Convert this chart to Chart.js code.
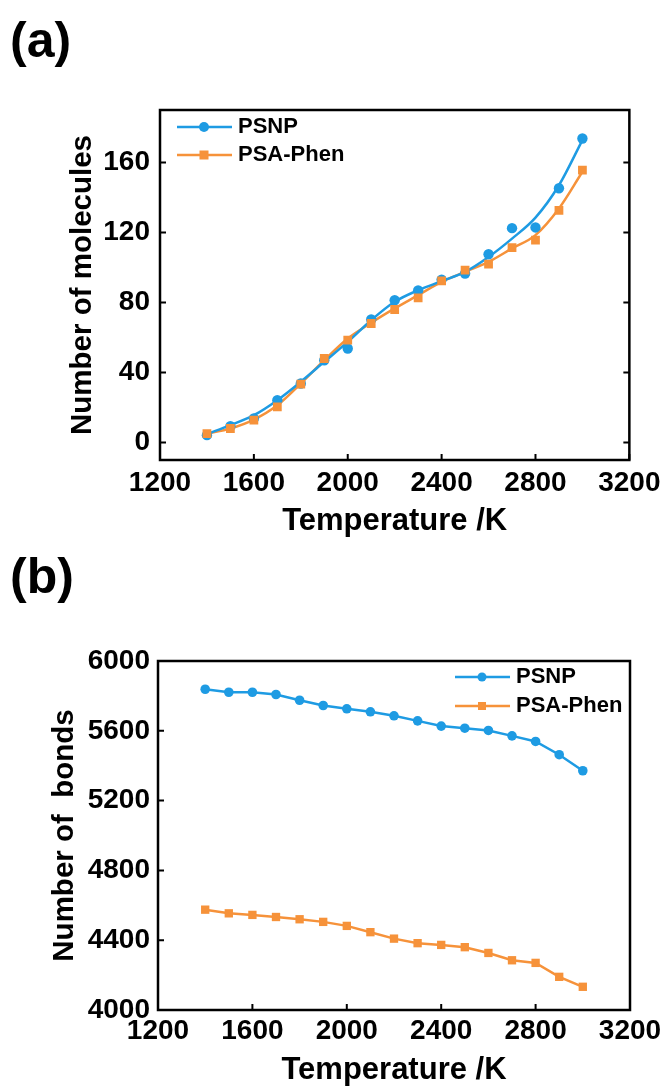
<!DOCTYPE html>
<html>
<head>
<meta charset="utf-8">
<script src="https://cdn.jsdelivr.net/npm/chart.js@4.4.1/dist/chart.umd.min.js"></script>
<style>
  html, body { margin: 0; padding: 0; background: #fff; }
  #page { position: relative; width: 667px; height: 1086px; overflow: hidden; }
  canvas { position: absolute; left: 0; }
  .tag { position: absolute; left: 10px; z-index: 2; color: #000;
         font: bold 50px "Liberation Sans", Arial, sans-serif; line-height: 50px; }
</style>
</head>
<body>
<div id="page">
  <canvas id="chartA" width="667" height="545" style="top:0"></canvas>
  <canvas id="chartB" width="667" height="541" style="top:545px"></canvas>
  <div class="tag" style="top:15px">(a)</div>
  <div class="tag" style="top:551px">(b)</div>
</div>
<script>
const temps = [1400, 1500, 1600, 1700, 1800, 1900, 2000, 2100, 2200, 2300, 2400, 2500, 2600, 2700, 2800, 2900, 3000];
const xTicks = [1200, 1600, 2000, 2400, 2800, 3200];
const moleculeTicks = [0, 40, 80, 120, 160];
const bondTicks = [4000, 4400, 4800, 5200, 5600, 6000];

// (a) number of molecules: measured points and the smoothed curve drawn through them
const psnpMolecules = [4.2, 9.3, 13.7, 24.2, 33.7, 47, 53.7, 70.3, 81.3, 86.9, 93.1, 96.6, 107.6, 122.5, 122.9, 145.3, 173.7];
const phenMolecules = [5.1, 8, 12.8, 20.4, 33.3, 48, 58.5, 68, 76, 82.7, 92.4, 98.5, 101.9, 111.4, 115.6, 132.6, 155.6];
const psnpMoleculeCurve = [4.8, 9.9, 15.6, 24.2, 34.7, 46.1, 57.5, 69.9, 80.4, 87, 92.2, 97.5, 106, 116.5, 128.5, 147, 172.8];
const phenMoleculeCurve = [5.1, 8, 13.1, 21.3, 33.7, 47, 59.4, 68.4, 76.6, 84.2, 91.8, 97.5, 103.2, 110.9, 118.5, 133.7, 154.7];

// (b) number of bonds
const psnpBonds = [5838, 5821, 5821, 5808, 5775, 5745, 5726, 5709, 5686, 5657, 5627, 5615, 5602, 5571, 5539, 5463, 5371];
const phenBonds = [4575, 4554, 4545, 4533, 4520, 4505, 4482, 4446, 4409, 4383, 4373, 4360, 4327, 4285, 4270, 4190, 4133];

const BLUE = '#1E9BE3';
const ORANGE = '#F6923A';
const FAMILY = '"Liberation Sans", Arial, sans-serif';

const toPoints = vals => temps.map((t, i) => ({ x: t, y: vals[i] }));

// box round the plot with ticks pointing inwards
const framePlugin = {
    id: 'frame',
    afterDraw(chart, args, opts) {
        const { ctx, chartArea: a, scales } = chart;
        const len = 6;
        ctx.save();
        ctx.strokeStyle = '#000';
        ctx.lineWidth = 2.5;
        ctx.strokeRect(a.left, a.top, a.right - a.left, a.bottom - a.top);
        ctx.lineWidth = 2;
        ctx.beginPath();
        scales.x.ticks.forEach(t => {
            const px = scales.x.getPixelForValue(t.value);
            ctx.moveTo(px, a.bottom);
            ctx.lineTo(px, a.bottom - len);
        });
        scales.y.ticks.forEach(t => {
            const py = scales.y.getPixelForValue(t.value);
            ctx.moveTo(a.left, py);
            ctx.lineTo(a.left + len, py);
            if (opts.mirrorY) {
                ctx.moveTo(a.right, py);
                ctx.lineTo(a.right - len, py);
            }
        });
        ctx.stroke();
        ctx.restore();
    }
};

// legend drawn inside the plot box: line with a marker, then the label
const insetLegend = {
    id: 'insetLegend',
    afterDraw(chart, args, opts) {
        const { ctx, chartArea: a } = chart;
        const x0 = opts.side === 'right' ? a.right + opts.dx : a.left + opts.dx;
        ctx.save();
        opts.items.forEach((it, i) => {
            const y = a.top + opts.dy + i * opts.gap;
            ctx.strokeStyle = it.color;
            ctx.lineWidth = 2.5;
            ctx.beginPath();
            ctx.moveTo(x0, y);
            ctx.lineTo(x0 + 55, y);
            ctx.stroke();
            ctx.fillStyle = it.color;
            const mx = x0 + 27;
            if (it.square) {
                ctx.fillRect(mx - it.size / 2, y - it.size / 2, it.size, it.size);
            } else {
                ctx.beginPath();
                ctx.arc(mx, y, it.size / 2, 0, Math.PI * 2);
                ctx.fill();
            }
            ctx.fillStyle = '#000';
            ctx.font = 'bold 22px ' + FAMILY;
            ctx.textBaseline = 'middle';
            ctx.textAlign = 'left';
            ctx.fillText(it.label, x0 + 61, y);
        });
        ctx.restore();
    }
};

function axes(opts) {
    const tickFont = { family: FAMILY, size: 28, weight: 'bold' };
    const xTitleFont = { family: FAMILY, size: 31, weight: 'bold', lineHeight: 1 };
    const yTitleFont = { family: FAMILY, size: 29.5, weight: 'bold', lineHeight: 1 };
    const noGrid = { display: false, drawTicks: false };
    return {
        x: {
            type: 'linear', min: 1200, max: 3200,
            grid: noGrid, border: { display: false },
            afterBuildTicks: s => { s.ticks = xTicks.map(v => ({ value: v })); },
            afterFit: s => { s.height = opts.xHeight; },
            ticks: { font: tickFont, color: '#000', padding: opts.xPad, maxRotation: 0, autoSkip: false,
                     callback: v => String(v) },
            title: { display: true, text: 'Temperature /K', font: xTitleFont, color: '#000',
                     padding: { top: 0, bottom: opts.xTitlePad } }
        },
        y: {
            type: 'linear', min: opts.yMin, max: opts.yMax,
            grid: noGrid, border: { display: false },
            afterBuildTicks: s => { s.ticks = opts.yTicks.map(v => ({ value: v })); },
            afterFit: s => { s.width = opts.yWidth; },
            ticks: { font: tickFont, color: '#000', padding: opts.yPad, autoSkip: false,
                     callback: v => String(v) },
            title: { display: true, text: opts.yTitle, font: yTitleFont, color: '#000',
                     padding: { top: opts.yTitlePad, bottom: 0 } }
        }
    };
}

Chart.defaults.font.family = FAMILY;

new Chart(document.getElementById('chartA'), {
    type: 'line',
    data: {
        datasets: [
            { label: 'PSA-Phen', data: toPoints(phenMolecules), showLine: false,
              pointStyle: 'rect', pointRadius: 6.2, pointBackgroundColor: ORANGE, pointBorderWidth: 0 },
            { label: 'PSNP', data: toPoints(psnpMolecules), showLine: false,
              pointStyle: 'circle', pointRadius: 5.2, pointBackgroundColor: BLUE, pointBorderWidth: 0 },
            { label: 'PSNP curve', data: toPoints(psnpMoleculeCurve), borderColor: BLUE, borderWidth: 2.5,
              pointRadius: 0, cubicInterpolationMode: 'monotone', fill: false },
            { label: 'PSA-Phen curve', data: toPoints(phenMoleculeCurve), borderColor: ORANGE, borderWidth: 2.5,
              pointRadius: 0, cubicInterpolationMode: 'monotone', fill: false }
        ]
    },
    options: {
        responsive: false,
        animation: false,
        devicePixelRatio: 1,
        events: [],
        layout: { padding: { left: 0, right: 37, top: 110, bottom: 0 } },
        scales: axes({ xHeight: 85, xPad: 6.5, xTitlePad: 8.2, yMin: -10, yMax: 190, yTicks: moleculeTicks,
                       yWidth: 160, yPad: 10, yTitle: 'Number of molecules', yTitlePad: 68.2 }),
        plugins: {
            legend: { display: false },
            tooltip: { enabled: false },
            frame: { mirrorY: true },
            insetLegend: {
                side: 'left', dx: 17, dy: 17, gap: 28,
                items: [
                    { label: 'PSNP', color: BLUE, size: 10 },
                    { label: 'PSA-Phen', color: ORANGE, size: 9, square: true }
                ]
            }
        }
    },
    plugins: [framePlugin, insetLegend]
});

new Chart(document.getElementById('chartB'), {
    type: 'line',
    data: {
        datasets: [
            { label: 'PSNP', data: toPoints(psnpBonds), borderColor: BLUE, borderWidth: 2.5, tension: 0,
              pointStyle: 'circle', pointRadius: 4.8, pointBackgroundColor: BLUE, pointBorderWidth: 0 },
            { label: 'PSA-Phen', data: toPoints(phenBonds), borderColor: ORANGE, borderWidth: 2.5, tension: 0,
              pointStyle: 'rect', pointRadius: 5.9, pointBackgroundColor: ORANGE, pointBorderWidth: 0 }
        ]
    },
    options: {
        responsive: false,
        animation: false,
        devicePixelRatio: 1,
        events: [],
        layout: { padding: { left: 0, right: 37, top: 116, bottom: 0 } },
        scales: axes({ xHeight: 76, xPad: 4.5, xTitlePad: 0.2, yMin: 4000, yMax: 6000, yTicks: bondTicks,
                       yWidth: 158, yPad: 8, yTitle: 'Number of  bonds', yTitlePad: 50.2 }),
        plugins: {
            legend: { display: false },
            tooltip: { enabled: false },
            frame: { mirrorY: false },
            insetLegend: {
                side: 'right', dx: -175, dy: 16, gap: 29,
                items: [
                    { label: 'PSNP', color: BLUE, size: 9 },
                    { label: 'PSA-Phen', color: ORANGE, size: 8, square: true }
                ]
            }
        }
    },
    plugins: [framePlugin, insetLegend]
});
</script>
</body>
</html>
